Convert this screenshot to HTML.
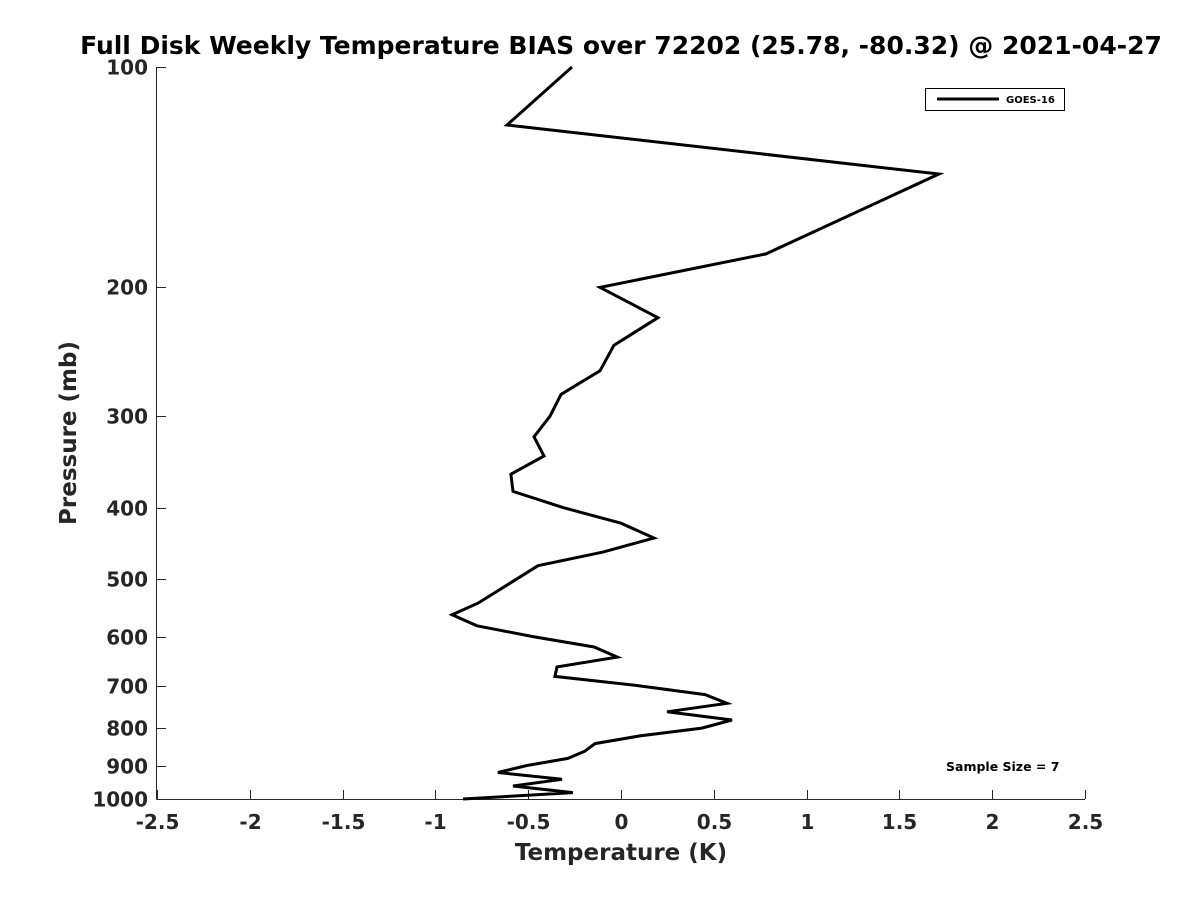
<!DOCTYPE html>
<html><head><meta charset="utf-8"><style>
html,body{margin:0;padding:0;background:#fff}
svg{display:block;font-family:"DejaVu Sans","Liberation Sans",sans-serif;font-weight:bold}
</style></head><body>
<svg id="chart" width="1200" height="900" viewBox="0 0 1200 900" xmlns="http://www.w3.org/2000/svg">
<rect width="1200" height="900" fill="#fff"/>
<text x="621" y="54" text-anchor="middle" font-size="25" fill="#000">Full Disk Weekly Temperature BIAS over 72202 (25.78, -80.32) @ 2021-04-27</text>
<g id="axes"></g>
<path id="series" fill="none" stroke="#000" stroke-width="3" stroke-linejoin="miter"/>
<g>
<rect x="925.5" y="88.5" width="139" height="22" fill="#fff" stroke="#000" stroke-width="1"/>
<line x1="937" y1="99" x2="999" y2="99" stroke="#000" stroke-width="3"/>
<text x="1006" y="103" font-size="10" fill="#000">GOES-16</text>
</g>
<text x="946" y="771" font-size="12.5" fill="#000">Sample Size = 7</text>
<text x="621" y="860" text-anchor="middle" font-size="23" fill="#262626">Temperature (K)</text>
<text transform="translate(76,433) rotate(-90)" text-anchor="middle" font-size="23" fill="#262626">Pressure (mb)</text>
</svg>
<script>
const pressures = [100,120,140,180,200,220,240,260,280,300,320,340,360,380,400,420,440,460,480,540,560,580,600,620,640,660,680,700,720,740,760,780,800,820,840,860,880,900,920,940,960,980,1000];
const biases = [-0.264,-0.614,1.713,0.781,-0.113,0.199,-0.038,-0.113,-0.323,-0.383,-0.469,-0.415,-0.593,-0.582,-0.31,0.0,0.178,-0.097,-0.447,-0.77,-0.91,-0.776,-0.474,-0.145,-0.02,-0.345,-0.356,0.09,0.453,0.571,0.248,0.598,0.436,0.102,-0.14,-0.194,-0.286,-0.507,-0.663,-0.318,-0.582,-0.259,-0.851];
const xTicks = [-2.5,-2,-1.5,-1,-0.5,0,0.5,1,1.5,2,2.5];
const yTicks = [100,200,300,400,500,600,700,800,900,1000];

const L=157,R=1085,T=67,B=799;
const xs=v=>L+(v+2.5)/5*(R-L);
const ys=p=>T+(Math.log10(p)-2)*(B-T);
const NS="http://www.w3.org/2000/svg";
const ax=document.getElementById('axes');
function mk(tag,attrs,parent){const e=document.createElementNS(NS,tag);for(const k in attrs)e.setAttribute(k,attrs[k]);parent.appendChild(e);return e;}
const xl=mk('line',{x1:L-0.5,y1:B+0.5,x2:R,y2:B+0.5,stroke:'#262626','stroke-width':1},ax);


const yl=mk('line',{x1:L-0.5,y1:T,x2:L-0.5,y2:B+0.5,stroke:'#262626','stroke-width':1},ax);


xTicks.forEach(v=>{
  const x=Math.round(xs(v))+0.5;
  mk('line',{x1:x,y1:B,x2:x,y2:B-9,stroke:'#262626','stroke-width':1},ax);
  const t=mk('text',{x:x,y:B+30,'text-anchor':'middle','font-size':20,fill:'#262626'},ax);
  t.textContent=String(v);
  
  
});
yTicks.forEach(p=>{
  const y=Math.round(ys(p))+0.5;
  mk('line',{x1:L,y1:y,x2:L+9,y2:y,stroke:'#262626','stroke-width':1},ax);
  const t=mk('text',{x:L-9,y:y+7,'text-anchor':'end','font-size':20,fill:'#262626'},ax);
  t.textContent=String(p);
  
  
});
document.getElementById('series').setAttribute('d',pressures.map((p,i)=>(i?'L':'M')+xs(biases[i]).toFixed(1)+' '+ys(p).toFixed(1)).join(' '));
</script>
</body></html>
